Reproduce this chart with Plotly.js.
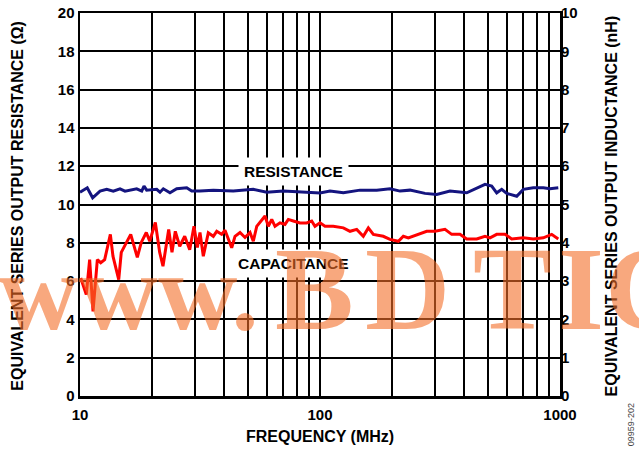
<!DOCTYPE html>
<html>
<head>
<meta charset="utf-8">
<script src="https://cdn.plot.ly/plotly-3.0.1.min.js"></script>
<style>html,body{margin:0;padding:0;background:#fff;}#chart{width:639px;height:452px;}</style>
</head>
<body>
<div id="chart"></div>
<script>
// Frequency (MHz) and equivalent series output resistance (ohm)
const freqRes = [10,10.72,11.29,12.12,12.92,13.76,14.68,15.40,17.23,18.08,18.48,18.96,20.87,21.54,22.24,23.71,25.29,27.84,29.21,31.62,35.93,43.53,52.74,59.98,70.34,82.54,100,110.1,125.1,146.8,172.3,195.7,215.4,237.1,273.8,306.4,348.1,408.6,449.8,487.0,519.3,544.9,571.6,599.8,660.2,703.4,774.2,852.0,908.5,983.7];
const resistance = [10.64,10.87,10.35,10.70,10.79,10.70,10.82,10.70,10.82,10.70,10.96,10.75,10.79,10.64,10.82,10.61,10.82,10.87,10.70,10.70,10.75,10.70,10.79,10.64,10.70,10.64,10.60,10.70,10.61,10.75,10.75,10.82,10.70,10.75,10.58,10.52,10.70,10.61,10.87,11.05,10.96,10.61,10.79,10.58,10.43,10.79,10.87,10.87,10.82,10.87];

// Frequency (MHz) and equivalent series output inductance (nH)
const freqInd = [10.07,10.62,10.97,11.33,11.81,12.20,12.67,13.38,13.72,14.50,14.86,15.60,16.27,17.33,18.00,18.89,19.52,20.60,21.48,22.17,23.42,24.17,24.95,26.03,27.31,28.65,29.85,30.83,31.62,32.64,34.24,35.93,37.12,38.93,40.19,42.86,44.25,46.42,48.70,51.09,52.74,54.49,59.02,60.92,62.94,64.94,68.13,71.48,73.79,77.42,82.54,88.0,92.35,95.32,100,104.9,113.6,125.1,133.4,142.2,151.5,159.0,166.8,183.5,195.7,212.1,222.5,233.4,256.9,278.4,301.5,331.7,353.8,383.1,408.6,449.8,487.0,510.9,544.9,590.2,629.4,703.4,774.2,852.0,923.4,983.7];
const inductance = [3.08,2.65,3.56,2.21,3.56,3.48,3.56,4.22,3.65,3.04,3.75,4.01,4.22,3.62,4.01,4.27,4.04,4.53,3.75,3.39,4.35,3.75,4.30,3.91,4.17,3.82,4.43,3.88,4.27,3.65,4.26,4.17,4.30,4.22,4.33,3.87,4.17,4.27,4.14,4.27,4.04,4.43,4.70,4.43,4.61,4.43,4.52,4.48,4.61,4.57,4.52,4.52,4.57,4.43,4.52,4.43,4.43,4.39,4.30,4.35,4.17,4.39,4.22,4.17,4.09,4.04,4.17,4.13,4.22,4.30,4.30,4.35,4.22,4.22,4.10,4.10,4.17,4.13,4.22,4.22,4.10,4.13,4.10,4.13,4.22,4.10];

// Tick labels
const xTickVals = [10,20,30,40,50,60,70,80,90,100,200,300,400,500,600,700,800,900,1000];
const xTickText = ['10','','','','','','','','','100','','','','','','','','','1000'];
const yTickVals = [0,2,4,6,8,10,12,14,16,18,20];
const y2TickVals = [0,1,2,3,4,5,6,7,8,9,10];

const b = s => s === '' ? '' : '<b>' + s + '</b>';
const FONT = 'Liberation Sans, Arial, sans-serif';
const SERIF = 'Liberation Serif, Times New Roman, serif';
const tickFont = {family: FONT, size: 15, color: '#000'};
const titleFont = {family: FONT, size: 16, color: '#000'};
const labelFont = {family: FONT, size: 15.5, color: '#000'};
const wmFont = size => ({family: SERIF, size: size, color: 'rgba(243,110,40,0.6)'});

const traces = [
  {x: freqRes, y: resistance, type: 'scatter', mode: 'lines', yaxis: 'y',
   line: {color: '#14147f', width: 3}, hoverinfo: 'skip'},
  {x: freqInd, y: inductance, type: 'scatter', mode: 'lines', yaxis: 'y2',
   line: {color: '#ff0000', width: 3}, hoverinfo: 'skip'}
];

const watermark = [
  {t: 'www.', x: -0.173, anchor: 'left', size: 110, y: 0.271},
  {t: 'B', x: (314 - 80) / 480, anchor: 'center', size: 118, y: 0.278},
  {t: 'D', x: (407 - 80) / 480, anchor: 'center', size: 118, y: 0.278},
  {t: 'T', x: (512 - 80) / 480, anchor: 'center', size: 118, y: 0.278},
  {t: 'I', x: (581 - 80) / 480, anchor: 'center', size: 118, y: 0.278},
  {t: 'C', x: (603 - 80) / 480, anchor: 'left', size: 118, y: 0.278}
].map(w => ({text: b(w.t), xref: 'paper', yref: 'paper', x: w.x, y: w.y,
  xanchor: w.anchor, yanchor: 'middle', showarrow: false, font: wmFont(w.size)}));

const layout = {
  width: 639, height: 452,
  margin: {l: 80, r: 79, t: 13, b: 56},
  paper_bgcolor: '#fff', plot_bgcolor: '#fff',
  showlegend: false,
  xaxis: {
    type: 'log', range: [1, 3],
    tickmode: 'array', tickvals: xTickVals, ticktext: xTickText.map(b),
    showgrid: true, gridcolor: '#000', gridwidth: 2,
    showline: true, mirror: true, linecolor: '#000', linewidth: 2.5,
    ticks: '', tickfont: tickFont, zeroline: false, ticklabelstandoff: 3
  },
  yaxis: {
    range: [0, 20], tickmode: 'array', tickvals: yTickVals, ticktext: yTickVals.map(v => b(String(v))),
    showgrid: true, gridcolor: '#000', gridwidth: 2,
    showline: true, mirror: true, linecolor: '#000', linewidth: 2.5,
    ticks: '', tickfont: tickFont, zeroline: false
  },
  yaxis2: {
    range: [0, 10], tickmode: 'array', tickvals: y2TickVals, ticktext: y2TickVals.map(v => b(String(v))),
    overlaying: 'y', side: 'right',
    showgrid: false, showline: false, ticks: '', tickfont: tickFont, zeroline: false
  },
  annotations: [
    {text: b('RESISTANCE'), xref: 'paper', yref: 'paper', x: 0.444, y: 0.585,
     showarrow: false, font: labelFont, bgcolor: '#fff', borderpad: 5},
    {text: b('CAPACITANCE'), xref: 'paper', yref: 'paper', x: 0.444, y: 0.347,
     showarrow: false, font: labelFont, bgcolor: '#fff', borderpad: 5},
    {text: b('FREQUENCY (MHz)'), xref: 'paper', yref: 'paper', x: 0.5, y: -0.107,
     xanchor: 'center', yanchor: 'middle', showarrow: false, font: titleFont},
    {text: b('EQUIVALENT SERIES OUTPUT RESISTANCE (Ω)'), xref: 'paper', yref: 'paper',
     x: -0.129, y: 0.497, xanchor: 'center', yanchor: 'middle', textangle: -90,
     showarrow: false, font: titleFont},
    {text: b('EQUIVALENT SERIES OUTPUT INDUCTANCE (nH)'), xref: 'paper', yref: 'paper',
     x: 1.108, y: 0.497, xanchor: 'center', yanchor: 'middle', textangle: -90,
     showarrow: false, font: titleFont},
    {text: '09959-202', xref: 'paper', yref: 'paper', x: 1.148, y: -0.076,
     xanchor: 'center', yanchor: 'middle', textangle: -90, showarrow: false,
     font: {family: FONT, size: 9, color: '#444'}}
  ].concat(watermark)
};

Plotly.newPlot('chart', traces, layout, {staticPlot: true, displayModeBar: false});
</script>
</body>
</html>
